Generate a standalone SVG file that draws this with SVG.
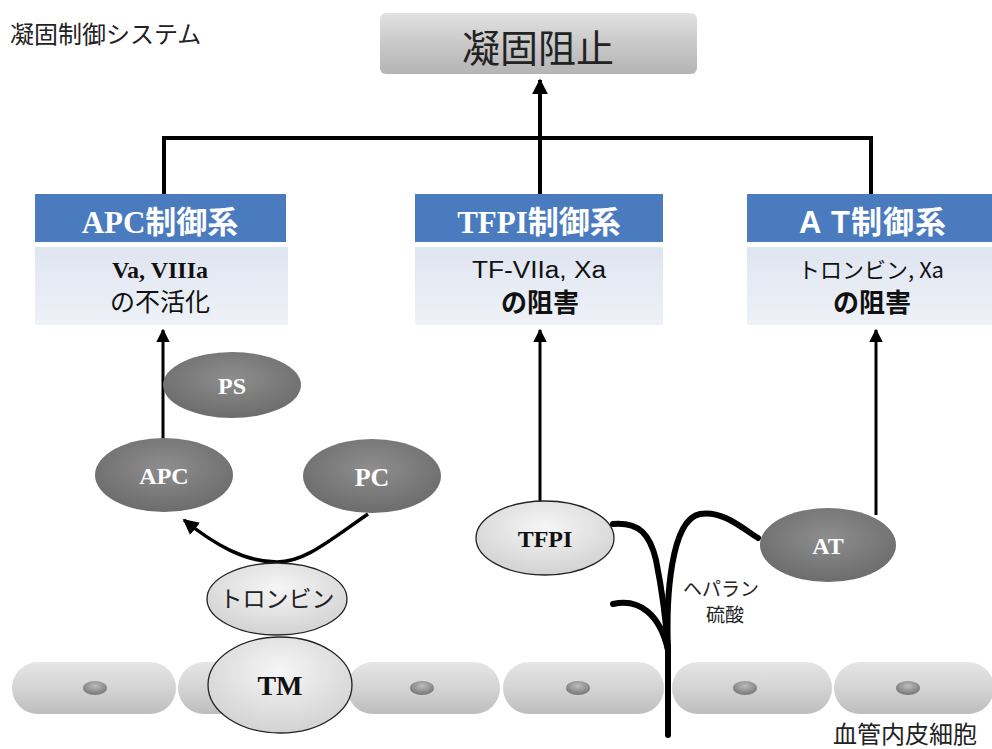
<svg xmlns="http://www.w3.org/2000/svg" width="992" height="749" viewBox="0 0 992 749">
  <defs>
    <linearGradient id="gBox" x1="0" y1="0" x2="0" y2="1">
      <stop offset="0" stop-color="#e2e2e2"/>
      <stop offset="0.5" stop-color="#c9c9c9"/>
      <stop offset="1" stop-color="#b4b4b4"/>
    </linearGradient>
    <linearGradient id="gPanel" x1="0" y1="0" x2="0" y2="1">
      <stop offset="0" stop-color="#dfe5f1"/>
      <stop offset="1" stop-color="#eef1f7"/>
    </linearGradient>
    <radialGradient id="gDark" cx="0.5" cy="0.4" r="0.6">
      <stop offset="0" stop-color="#8e8e8e"/>
      <stop offset="1" stop-color="#6c6c6c"/>
    </radialGradient>
    <radialGradient id="gLight" cx="0.5" cy="0.35" r="0.65">
      <stop offset="0" stop-color="#f6f6f6"/>
      <stop offset="1" stop-color="#d2d2d2"/>
    </radialGradient>
    <linearGradient id="gCell" x1="0" y1="0" x2="0" y2="1">
      <stop offset="0" stop-color="#e6e6e6"/>
      <stop offset="0.5" stop-color="#d4d4d4"/>
      <stop offset="1" stop-color="#bdbdbd"/>
    </linearGradient>
    <radialGradient id="gNuc" cx="0.5" cy="0.35" r="0.6">
      <stop offset="0" stop-color="#bdbdbd"/>
      <stop offset="1" stop-color="#7a7a7a"/>
    </radialGradient>
    <marker id="arrow" viewBox="0 0 10 10" refX="9" refY="5" markerWidth="4" markerHeight="4" orient="auto" markerUnits="strokeWidth">
      <path d="M0,0 L10,5 L0,10 z" fill="#000"/>
    </marker>
    <marker id="arrowS" viewBox="0 0 10 10" refX="9" refY="5" markerWidth="4.5" markerHeight="4.5" orient="auto" markerUnits="strokeWidth">
      <path d="M0,0 L10,5 L0,10 z" fill="#000"/>
    </marker>
  </defs>
  <style>
    .jp { font-family: "Noto Sans CJK JP", "Noto Sans", sans-serif; }
    .ser { font-family: "Liberation Serif", "Noto Sans CJK JP", serif; font-weight: bold; }
    .hdr { fill: #4a7bbf; }
    .hdrTxt { fill: #fff; font-size: 31px; text-anchor: middle; }
    .panel { fill: url(#gPanel); }
    .panelTxt { fill: #111; text-anchor: middle; }
    .dark { fill: url(#gDark); }
    .light { fill: url(#gLight); stroke: #222; stroke-width: 1.3; }
    .cell { fill: url(#gCell); }
    .nuc { fill: url(#gNuc); }
    .wire { fill: none; stroke: #000; stroke-width: 4; }
    .hs { fill: none; stroke: #000; stroke-width: 6; stroke-linecap: round; }
  </style>

  <rect width="992" height="749" fill="#fff"/>

  <!-- system title -->
  <text id="title" class="jp" x="10" y="43" font-size="24" fill="#222">凝固制御システム</text>

  <!-- endothelial cell row -->
  <g id="endothelium">
    <rect class="cell" x="12" y="662" width="164" height="52" rx="26"/>
    <rect class="cell" x="178" y="662" width="168" height="52" rx="26"/>
    <rect class="cell" x="347" y="662" width="153" height="52" rx="26"/>
    <rect class="cell" x="503" y="662" width="161" height="52" rx="26"/>
    <rect class="cell" x="672" y="662" width="160" height="52" rx="26"/>
    <rect class="cell" x="834" y="662" width="160" height="52" rx="26"/>
    <ellipse class="nuc" cx="95" cy="688" rx="12" ry="7"/>
    <ellipse class="nuc" cx="422" cy="688" rx="12" ry="7"/>
    <ellipse class="nuc" cx="578" cy="688" rx="12" ry="7"/>
    <ellipse class="nuc" cx="745" cy="688" rx="12" ry="7"/>
    <ellipse class="nuc" cx="908" cy="688" rx="12" ry="7"/>
    <text class="jp" x="833" y="743" font-size="24" fill="#222">血管内皮細胞</text>
  </g>

  <!-- connectors -->
  <g id="connectors">
    <polyline class="wire" points="164,196 164,138 871,138 871,196"/>
    <line class="wire" x1="540" y1="196" x2="540" y2="80" marker-end="url(#arrow)"/>
    <line x1="163" y1="440" x2="163" y2="330" stroke="#000" stroke-width="3" marker-end="url(#arrowS)"/>
    <line x1="540" y1="502" x2="540" y2="330" stroke="#000" stroke-width="3" marker-end="url(#arrowS)"/>
    <line x1="876" y1="515" x2="876" y2="330" stroke="#000" stroke-width="3" marker-end="url(#arrowS)"/>
    <path d="M368,514 C330,540 305,562 277,562 C245,562 215,545 184,520" fill="none" stroke="#000" stroke-width="3.5" marker-end="url(#arrowS)"/>
  </g>

  <!-- heparan sulfate chains -->
  <g id="heparan">
    <path class="hs" d="M668,735 L668,650"/>
    <path class="hs" d="M613,524 C640,522 650,535 656,560 C662,590 666,620 668,650"/>
    <path class="hs" d="M668,650 C666,600 670,520 700,514 C722,510 742,528 758,538"/>
    <path class="hs" d="M613,604 C640,598 660,615 668,650"/>
    <text class="jp" x="683" y="596" font-size="19" fill="#222">ヘパラン</text>
    <text class="jp" x="706" y="622" font-size="19" fill="#222">硫酸</text>
  </g>

  <!-- goal box -->
  <g id="goal">
    <rect x="380" y="13" width="317" height="61" rx="6" fill="url(#gBox)"/>
    <text class="jp" x="538" y="62" font-size="38" fill="#222" text-anchor="middle">凝固阻止</text>
  </g>

  <!-- APC system -->
  <g id="apc-system">
    <rect class="hdr" x="35" y="194" width="251" height="48"/>
    <text class="ser hdrTxt" x="160" y="233">APC制御系</text>
    <rect class="panel" x="35" y="247" width="253" height="78"/>
    <text class="ser panelTxt" x="160" y="278" font-size="24">Va, VIIIa</text>
    <text class="jp panelTxt" x="160" y="311" font-size="25">の不活化</text>
  </g>

  <!-- TFPI system -->
  <g id="tfpi-system">
    <rect class="hdr" x="415" y="194" width="248" height="48"/>
    <text class="ser hdrTxt" x="539" y="233">TFPI制御系</text>
    <rect class="panel" x="415" y="247" width="248" height="78"/>
    <text class="panelTxt" x="539" y="278" font-size="23" font-family="Liberation Sans, sans-serif" textLength="134" lengthAdjust="spacingAndGlyphs">TF-VIIa, Xa</text>
    <text class="jp panelTxt" x="540" y="312" font-size="26" font-weight="bold">の阻害</text>
  </g>

  <!-- AT system -->
  <g id="at-system">
    <rect class="hdr" x="747" y="194" width="245" height="48"/>
    <text class="hdrTxt" x="873" y="233" font-family="Liberation Sans, Noto Sans CJK JP, sans-serif" font-weight="bold" font-size="30" letter-spacing="1">A T制御系</text>
    <rect class="panel" x="747" y="247" width="245" height="78"/>
    <text class="panelTxt" x="871" y="278" font-size="22" font-family="Noto Sans CJK JP, sans-serif">トロンビン, Xa</text>
    <text class="jp panelTxt" x="872" y="312" font-size="26" font-weight="bold">の阻害</text>
  </g>

  <!-- molecules -->
  <g id="ps">
    <ellipse class="dark" cx="232" cy="385" rx="69" ry="33"/>
    <text class="ser" x="232" y="394" font-size="24" fill="#fff" text-anchor="middle">PS</text>
  </g>
  <g id="apc">
    <ellipse class="dark" cx="164" cy="475" rx="69" ry="37"/>
    <text class="ser" x="164" y="484" font-size="24" fill="#fff" text-anchor="middle">APC</text>
  </g>
  <g id="pc">
    <ellipse class="dark" cx="372" cy="476" rx="69" ry="37"/>
    <text class="ser" x="372" y="486" font-size="26" fill="#fff" text-anchor="middle">PC</text>
  </g>
  <g id="thrombin">
    <ellipse class="light" cx="277" cy="599" rx="70" ry="36"/>
    <text class="jp" x="277" y="607" font-size="23" fill="#222" text-anchor="middle">トロンビン</text>
  </g>
  <g id="tm">
    <ellipse class="light" cx="280" cy="685" rx="72" ry="48"/>
    <text class="ser" x="280" y="695" font-size="28" fill="#111" text-anchor="middle">TM</text>
  </g>
  <g id="tfpi">
    <ellipse class="light" cx="545" cy="538" rx="69" ry="37"/>
    <text class="ser" x="545" y="547" font-size="24" fill="#111" text-anchor="middle">TFPI</text>
  </g>
  <g id="at">
    <ellipse class="dark" cx="828" cy="545" rx="68" ry="37"/>
    <text class="ser" x="828" y="554" font-size="24" fill="#fff" text-anchor="middle">AT</text>
  </g>
</svg>
